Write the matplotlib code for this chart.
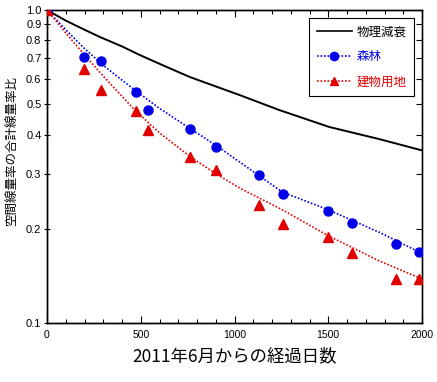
import matplotlib
matplotlib.use("Agg")
import matplotlib.pyplot as plt
from matplotlib.ticker import FixedLocator, NullFormatter, MultipleLocator
from matplotlib.lines import Line2D

plt.rcParams['font.family'] = ['Liberation Sans', 'Noto Sans CJK JP', 'DejaVu Sans']

# Measured data (days since June 2011, ratio of total air dose rate)
days = [0, 197, 290, 473, 537, 760, 899, 1133, 1261, 1500, 1628, 1862, 1984]
forest = [1.0, 0.708, 0.687, 0.547, 0.480, 0.417, 0.365, 0.297, 0.258, 0.228, 0.209, 0.179, 0.169]
building = [1.0, 0.648, 0.555, 0.476, 0.414, 0.339, 0.308, 0.238, 0.207, 0.188, 0.167, 0.138, 0.138]

# Physical decay curve
decay_days = [0, 100, 200, 282, 400, 495, 620, 761, 900, 1027, 1239, 1505, 1771, 2000]
decay_vals = [1.0, 0.925, 0.865, 0.820, 0.765, 0.718, 0.665, 0.611, 0.570, 0.535, 0.479, 0.423, 0.387, 0.356]

# Fitted curves
fit_days = [0, 100, 191, 300, 468, 600, 766, 900, 1027, 1255, 1500, 1771, 1990]
forest_fit = [1.0, 0.865, 0.762, 0.665, 0.555, 0.485, 0.417, 0.370, 0.327, 0.262, 0.230, 0.195, 0.168]
building_fit = [1.0, 0.845, 0.729, 0.615, 0.479, 0.405, 0.339, 0.300, 0.270, 0.230, 0.190, 0.158, 0.139]

legend_labels = ['物理減衰', '森林', '建物用地']
blue = '#0000e6'
red = '#e00000'
dot = (0, (1, 1.1))

fig = plt.figure(figsize=(4.37, 3.82), dpi=100)
ax = fig.add_axes([47/437, 1-323/382, (422-47)/437, (323-10)/382])

ax.plot(decay_days, decay_vals, color='black', lw=1.4)
ax.plot(fit_days, forest_fit, color=blue, lw=1.2, ls=dot, zorder=2)
ax.plot(fit_days, building_fit, color=red, lw=1.2, ls=dot, zorder=2)
ax.plot(days, forest, ls='none', marker='o', ms=6.5, color=blue, zorder=3)
ax.plot(days, building, ls='none', marker='^', ms=6.5, color=red, zorder=4)

ax.set_yscale('log')
ax.set_ylim(0.1, 1.0)
ax.set_xlim(0, 2000)

yt = [0.1, 0.2, 0.3, 0.4, 0.5, 0.6, 0.7, 0.8, 0.9, 1.0]
ax.yaxis.set_major_locator(FixedLocator(yt))
ax.yaxis.set_minor_locator(FixedLocator([]))
ax.yaxis.set_minor_formatter(NullFormatter())
ax.set_yticklabels(['%.1f' % v for v in yt])
ax.xaxis.set_major_locator(MultipleLocator(500))
ax.xaxis.set_minor_locator(MultipleLocator(100))

ax.tick_params(axis='y', which='major', direction='inout', length=4, width=0.8,
               labelsize=8, right=False, pad=2)
ax.tick_params(axis='x', which='both', direction='in', top=True, labelsize=7.5, pad=5, width=0.8)
ax.tick_params(axis='x', which='major', length=5)
ax.tick_params(axis='x', which='minor', length=3)

# right-side inward ticks
axr = ax.twinx()
axr.set_yscale('log')
axr.set_ylim(0.1, 1.0)
axr.yaxis.set_major_locator(FixedLocator(yt))
axr.yaxis.set_minor_locator(FixedLocator([]))
axr.yaxis.set_major_formatter(NullFormatter())
axr.yaxis.set_minor_formatter(NullFormatter())
axr.tick_params(axis='y', which='major', direction='in', length=4, width=0.8)

for a in (ax, axr):
    for s in a.spines.values():
        s.set_linewidth(1.0)
axr.spines['right'].set_color('#555555')

ax.set_xlabel('2011年6月からの経過日数', fontsize=12.5,
              family=['Noto Sans CJK JP', 'DejaVu Sans'], labelpad=5)
ax.set_ylabel('空間線量率の合計線量率比', fontsize=9,
              family=['Noto Sans CJK JP', 'DejaVu Sans'])
ax.yaxis.set_label_coords(-0.078, 0.55)

h0 = Line2D([], [], color='black', lw=1.2)
h1 = Line2D([], [], color=blue, lw=1.2, ls=dot, marker='o', ms=6)
h2 = Line2D([], [], color=red, lw=1.2, ls=dot, marker='^', ms=6)
leg = ax.legend([h0, h1, h2], legend_labels, loc='upper right',
                bbox_to_anchor=(414/437, 1-18/382), bbox_transform=fig.transFigure,
                prop={'family': ['Noto Sans CJK JP', 'DejaVu Sans'], 'size': 9},
                frameon=True, fancybox=False, edgecolor='black', framealpha=1,
                handlelength=2.8, handletextpad=0.4, labelspacing=0.95,
                borderpad=0.6, borderaxespad=0)
leg.get_frame().set_linewidth(0.8)
for t, c in zip(leg.get_texts(), ['black', blue, red]):
    t.set_color(c)
leg.set_zorder(10)
axr.set_zorder(ax.get_zorder() - 1)
ax.patch.set_visible(False)

fig.savefig('out.png', dpi=100)
